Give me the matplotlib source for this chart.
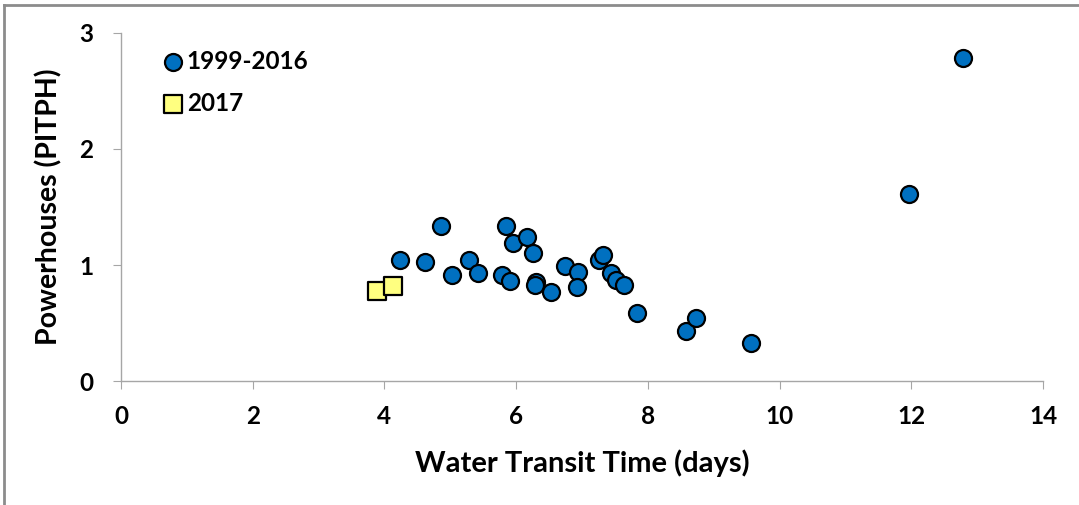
import numpy as np
import matplotlib.pyplot as plt
from matplotlib.lines import Line2D

plt.rcParams['font.family'] = ['Lato', 'DejaVu Sans']
plt.rcParams['font.weight'] = 'bold'

# 1999-2016 points
x_old = [4.24, 4.62, 4.86, 5.03, 5.28, 5.42, 5.79, 5.85, 5.91, 5.95, 6.16, 6.26,
         6.30, 6.29, 6.53, 6.74, 6.94, 6.92, 7.26, 7.32, 7.44, 7.52, 7.64, 7.83,
         8.58, 8.73, 9.57, 11.96, 12.78]
y_old = [1.04, 1.03, 1.34, 0.91, 1.04, 0.93, 0.91, 1.34, 0.86, 1.19, 1.24, 1.10,
         0.85, 0.83, 0.77, 0.99, 0.94, 0.81, 1.04, 1.09, 0.93, 0.87, 0.83, 0.59,
         0.43, 0.54, 0.33, 1.61, 2.78]

# 2017 points
x_new = [3.89, 4.13]
y_new = [0.78, 0.82]

fig = plt.figure(figsize=(10.79, 5.05), dpi=100)
ax = fig.add_axes([0.1121, 0.2455, 0.8545, 0.6892])

ax.scatter(x_old, y_old, s=150, c='#0070C0', edgecolors='black', linewidths=1.6,
           label='1999-2016', zorder=3)
ax.scatter(x_new, y_new, s=150, marker='s', c='#FFFF80', edgecolors='black',
           linewidths=1.6, label='2017', zorder=3)

ax.set_xlim(0, 14)
ax.set_ylim(0, 3)
ax.set_xticks(np.arange(0, 15, 2))
ax.set_yticks([0, 1, 2, 3])

for side in ['top', 'right']:
    ax.spines[side].set_visible(False)
for side in ['left', 'bottom']:
    ax.spines[side].set_color('#A6A6A6')
    ax.spines[side].set_linewidth(1.0)
ax.tick_params(axis='both', direction='out', length=6, color='#A6A6A6',
               labelsize=17.5)
ax.tick_params(axis='x', pad=11)
ax.tick_params(axis='y', pad=14)
for lab in ax.get_xticklabels() + ax.get_yticklabels():
    lab.set_fontweight('bold')

ax.set_xlabel('Water Transit Time (days)', fontsize=21, fontweight='bold', labelpad=16)
ax.set_ylabel('Powerhouses (PITPH)', fontsize=20.5, fontweight='bold', labelpad=12)

leg = ax.legend(loc='upper left', bbox_to_anchor=(0.02, 1.015), frameon=False,
                fontsize=17.5, markerscale=1.0, handletextpad=0.05, labelspacing=0.78,
                handlelength=1.0)
for t in leg.get_texts():
    t.set_fontweight('bold')

# frame lines of the chart area
fig.add_artist(Line2D([4 / 1079, 4 / 1079], [0, 1 - 5 / 505], transform=fig.transFigure,
                      color='#8C8C8C', linewidth=2))
fig.add_artist(Line2D([4 / 1079, 1], [1 - 5 / 505, 1 - 5 / 505], transform=fig.transFigure,
                      color='#8C8C8C', linewidth=2))

fig.savefig('out.png', dpi=100)
